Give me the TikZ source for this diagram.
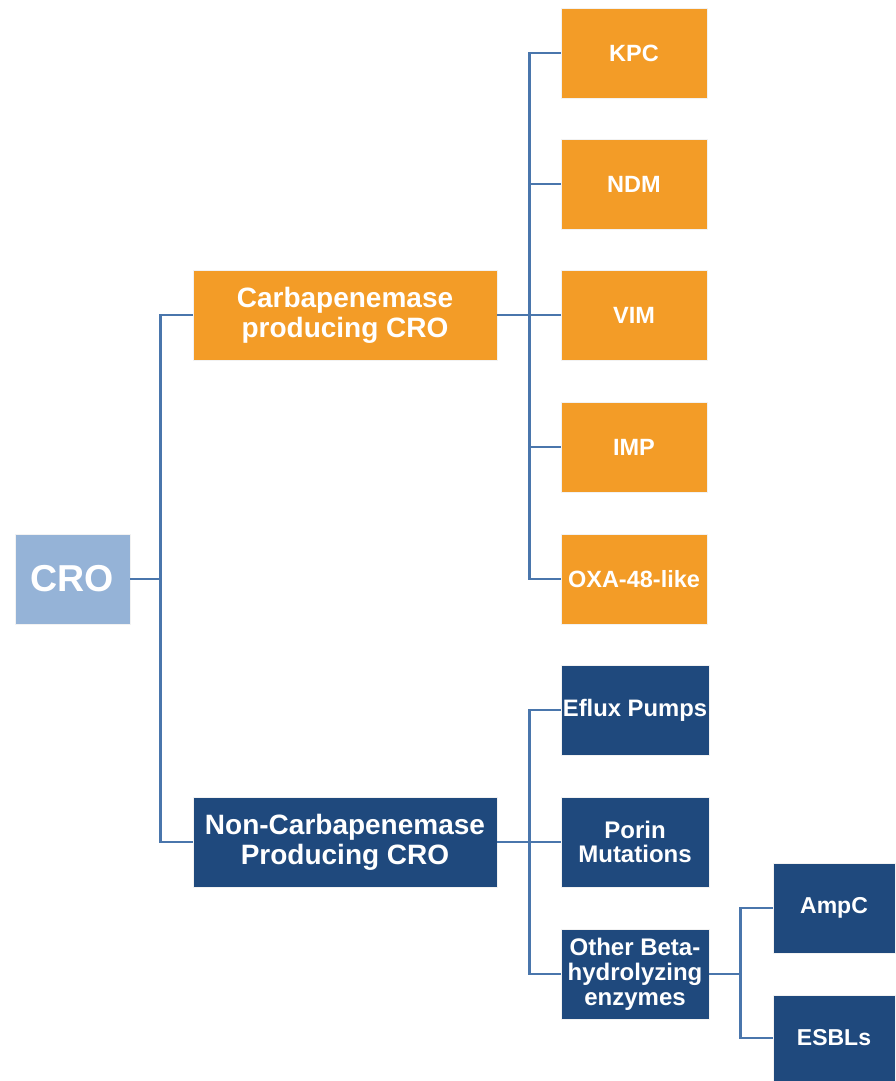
\documentclass[tikz,border=0pt]{standalone}
\usepackage{fontspec}
\setmainfont{Liberation Sans}
\definecolor{croblue}{HTML}{95B3D7}
\definecolor{carborange}{HTML}{F39C27}
\definecolor{navy}{HTML}{1F497D}
\definecolor{linkblue}{HTML}{4A76AC}
\tikzset{
  box/.style={draw=white!90!gray, line width=0.8pt, text=white, font=\bfseries, align=center, inner sep=1pt},
  orangebox/.style={box, fill=carborange},
  navybox/.style={box, fill=navy},
  link/.style={draw=linkblue, line width=2.3pt}
}
\begin{document}
\begin{tikzpicture}[x=1pt,y=-1pt]
\useasboundingbox (0,0) rectangle (896,1081);
% root
\node[box, fill=croblue, minimum width=115pt, minimum height=90pt, font=\bfseries\fontsize{37.5}{40}\selectfont] (cro) at (72.5,579) {CRO};
% second level
\node[orangebox, minimum width=304pt, minimum height=90pt, font=\bfseries\fontsize{28}{30}\selectfont] (carb) at (345,315) {Carbapenemase\\producing CRO};
\node[navybox, minimum width=304pt, minimum height=90pt, font=\bfseries\fontsize{28}{30}\selectfont] (noncarb) at (345,842) {Non-Carbapenemase\\Producing CRO};
% carbapenemases
\node[orangebox, minimum width=146pt, minimum height=90pt, font=\bfseries\fontsize{23.5}{25}\selectfont] (kpc) at (634,53) {KPC};
\node[orangebox, minimum width=146pt, minimum height=90pt, font=\bfseries\fontsize{23.5}{25}\selectfont] (ndm) at (634,184) {NDM};
\node[orangebox, minimum width=146pt, minimum height=90pt, font=\bfseries\fontsize{23.5}{25}\selectfont] (vim) at (634,315) {VIM};
\node[orangebox, minimum width=146pt, minimum height=90pt, font=\bfseries\fontsize{23.5}{25}\selectfont] (imp) at (634,447) {IMP};
\node[orangebox, minimum width=146pt, minimum height=90pt, font=\bfseries\fontsize{23.5}{25}\selectfont] (oxa) at (634,579) {OXA-48-like};
% other mechanisms
\node[navybox, minimum width=148pt, minimum height=90pt, font=\bfseries\fontsize{23.8}{24}\selectfont] (eflux) at (635,710) {Eflux Pumps};
\node[navybox, minimum width=148pt, minimum height=90pt, font=\bfseries\fontsize{24}{24}\selectfont] (porin) at (635,842) {Porin\\Mutations};
\node[navybox, minimum width=148pt, minimum height=90pt, font=\bfseries\fontsize{24}{25}\selectfont] (other) at (635,974) {Other Beta-\\hydrolyzing\\enzymes};
\node[navybox, minimum width=122pt, minimum height=90pt, font=\bfseries\fontsize{23}{25}\selectfont] (ampc) at (834,908) {AmpC};
\node[navybox, minimum width=122pt, minimum height=86pt, font=\bfseries\fontsize{23}{25}\selectfont] (esbl) at (834,1038) {ESBLs};
% connectors
\foreach \n in {carb,noncarb}
  \draw[link] (cro.east) -- ++(30,0) |- (\n.west);
\foreach \n in {kpc,ndm,vim,imp,oxa}
  \draw[link] (carb.east) -- ++(32,0) |- (\n.west);
\foreach \n in {eflux,porin,other}
  \draw[link] (noncarb.east) -- ++(32,0) |- (\n.west);
\foreach \n in {ampc,esbl}
  \draw[link] (other.east) -- ++(31,0) |- (\n.west);
\end{tikzpicture}
\end{document}
